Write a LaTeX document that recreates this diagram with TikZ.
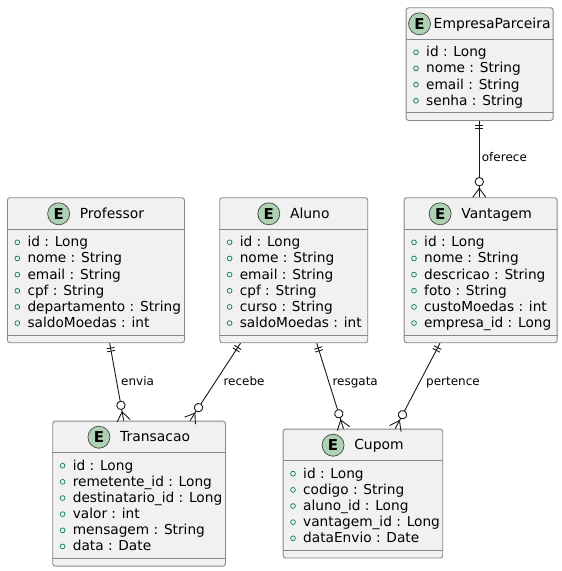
\documentclass[tikz,border=0pt]{standalone}
\usepackage{fontspec}
\setmainfont{DejaVu Sans}
\usetikzlibrary{decorations.markings,calc}
\definecolor{lc}{HTML}{181818}
\definecolor{bordc}{HTML}{888888}
\definecolor{boxfill}{HTML}{F1F1F1}
\definecolor{egreen}{HTML}{ADD1B2}
\definecolor{dotgreen}{HTML}{038048}
\tikzset{
  ent/.style={draw=bordc, line width=0.9pt, fill=boxfill, rounded corners=2.5pt, inner sep=0pt, rectangle},
  sepline/.style={draw=bordc, line width=0.9pt},
  etitle/.style={font=\fontsize{13.9}{16}\selectfont, inner sep=0pt, text=black},
  ecirc/.style={circle, draw=lc!80, line width=0.7pt, fill=egreen, minimum size=22pt, inner sep=0pt, font=\bfseries\fontsize{15}{15}\selectfont},
  attr/.style={font=\fontsize{13.7}{16}\selectfont, inner sep=0pt, text=black},
  attrdot/.style={draw=dotgreen, line width=0.7pt},
  lbl/.style={font=\fontsize{12}{14}\selectfont, inner sep=0pt, anchor=base west, text=black},
  rel/.style={draw=lc, line width=0.9pt, postaction={decorate}, decoration={markings,
    mark=at position 5pt with {\draw[lc, line width=0.9pt] (0,-4pt) -- (0,4pt);},
    mark=at position 8pt with {\draw[lc, line width=0.9pt] (0,-4pt) -- (0,4pt);},
    mark=at position -15.6pt with {\draw[lc, line width=0.9pt, fill=white] (0,0) circle (4.2pt);},
    mark=at position -9pt with {\draw[lc, line width=0.9pt] (9pt,6.5pt) -- (0,0) -- (9pt,-6.5pt);}
  }}
}
% #1 name, #2 left, #3 top, #4 width, #5 lines, #6 title, #7 attrs, #8 gap
\newcommand\entbox[8]{%
  \pgfmathsetmacro\entH{40.1+16.15*#5+8}%
  \pgfmathsetmacro\entOff{(22+#8)/2}%
  \pgfmathsetmacro\entCs{#8+11}%
  \node[ent, minimum width=#4pt, minimum height=\entH pt, anchor=north west] (#1) at (#2,#3) {};
  \draw[sepline] ([yshift=-32pt]#1.north west) -- ([yshift=-32pt]#1.north east);
  \draw[sepline] ([yshift=8pt]#1.south west) -- ([yshift=8pt]#1.south east);
  \node[etitle, anchor=base] (#1-t) at ([xshift=\entOff pt, yshift=-21pt]#1.north) {#6};
  \node[ecirc] (#1-c) at ([xshift=-\entCs pt, yshift=4.5pt]#1-t.base west) {E};
  \foreach \a [count=\i] in {#7} {
    \node[attr, anchor=base west] (#1-a\i) at ([xshift=20.3pt, yshift={-49.4pt-16.15pt*(\i-1)}]#1.north west) {\a};
    \draw[attrdot] ([xshift=-10pt, yshift=4.4pt]#1-a\i.base west) circle (2.4pt);
  }
}
\begin{document}
\begin{tikzpicture}[x=1pt, y=-1pt]
\useasboundingbox (0,0) rectangle (562,571);
\entbox{emp}{405.7}{7.3}{147}{4}{EmpresaParceira}{id : Long, nome : String, email : String, senha : String}{3}
\entbox{prof}{7}{197.3}{177}{6}{Professor}{id : Long, nome : String, email : String, cpf : String, departamento : String, saldoMoedas : int}{10}
\entbox{aluno}{219.3}{197.3}{148}{6}{Aluno}{id : Long, nome : String, email : String, cpf : String, curso : String, saldoMoedas : int}{10}
\entbox{vant}{403.7}{197.3}{153}{6}{Vantagem}{id : Long, nome : String, descricao : String, foto : String, custoMoedas : int, empresa\_id : Long}{10}
\entbox{trans}{52.3}{420.7}{172.7}{6}{Transacao}{id : Long, remetente\_id : Long, destinatario\_id : Long, valor : int, mensagem : String, data : Date}{10}
\entbox{cupom}{282.7}{428.7}{159.6}{5}{Cupom}{id : Long, codigo : String, aluno\_id : Long, vantagem\_id : Long, dataEnvio : Date}{10}

\draw[rel] ([xshift=73.6pt]emp.south west) -- ([xshift=75.6pt]vant.north west);
\draw[rel] ([xshift=102.7pt]prof.south west) -- ([xshift=71.4pt]trans.north west);
\draw[rel] ([xshift=21.2pt]aluno.south west) -- ([xshift=137.7pt]trans.north west);
\draw[rel] ([xshift=97.4pt]aluno.south west) -- ([xshift=60.8pt]cupom.north west);
\draw[rel] ([xshift=36.3pt]vant.south west) -- ([xshift=112.5pt]cupom.north west);

\node[lbl] (l-oferece) at (481.7,161.6) {oferece};
\node[lbl] (l-envia) at (121,385.3) {envia};
\node[lbl] (l-recebe) at (223.3,385.3) {recebe};
\node[lbl] (l-resgata) at (332.3,385.3) {resgata};
\node[lbl] (l-pertence) at (426,385.3) {pertence};
\end{tikzpicture}
\end{document}
